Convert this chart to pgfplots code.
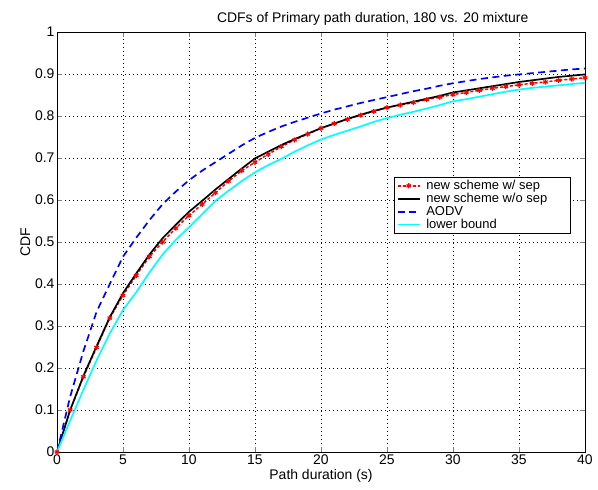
\documentclass[border=0pt]{standalone}
\usepackage{pgfplots}
\pgfplotsset{compat=1.18}
\usepackage{fontspec}
\setmainfont{Liberation Sans}
\definecolor{mycyan}{RGB}{0,255,255}
\newcommand{\legtxt}[1]{\makebox[141bp][l]{#1}}
\begin{document}
\begin{tikzpicture}
\useasboundingbox (-57bp,-38bp) rectangle (541bp,452bp);
\begin{axis}[
  scale only axis, width=528bp, height=420bp,
  xmin=0, xmax=40, ymin=0, ymax=1,
  xtick={0,5,...,40}, ytick={0,0.1,...,1},
  yticklabels={0,0.1,0.2,0.3,0.4,0.5,0.6,0.7,0.8,0.9,1},
  /pgf/number format/assume math mode=true,
  tick label style={font=\fontsize{14}{16}\selectfont},
  xticklabel style={yshift=1bp},
  yticklabel style={xshift=1bp},
  label style={font=\fontsize{14}{16}\selectfont},
  title style={font=\fontsize{14}{16}\selectfont, at={(0.598,1)}, anchor=south, yshift=-3bp},
  title={CDFs of Primary path duration, 180 vs. 20 mixture},
  xlabel={Path duration (s)}, ylabel={CDF},
  xlabel style={yshift=2bp}, ylabel style={yshift=-2bp},
  grid=major, major grid style={black, line width=0.5pt, dash pattern=on 0.6bp off 3.4bp},
  tick align=inside, tick pos=both, major tick length=5bp,
  axis line style={line width=0.8pt},
  legend style={at={(0.973,0.655)}, anchor=north east, font=\fontsize{13}{13}\selectfont, draw=black, line width=0.7pt, row sep=1pt, column sep=5bp, inner sep=2.5pt, nodes={inner sep=0.6pt}},
  legend image code/.code={\draw[mark repeat=2,mark phase=2] plot coordinates {(0cm,0cm) (0.39cm,0cm) (0.78cm,0cm)};},
  legend cell align=left,
]
\addplot[red, line width=1.5pt, densely dashed, mark=asterisk, mark size=2.6pt, mark options={solid, line width=1.2pt}] coordinates {
(0,0) (1,0.10) (2,0.179) (3,0.249) (4,0.319) (5,0.373) (6,0.42) (7,0.465) (8,0.50) (9,0.533) (10,0.563) (11,0.590) (12,0.617) (13,0.645) (14,0.670) (15,0.690) (16,0.709) (17,0.727) (18,0.743) (19,0.757) (20,0.771) (21,0.782) (22,0.792) (23,0.802) (24,0.811) (25,0.820) (26,0.826) (27,0.832) (28,0.839) (29,0.845) (30,0.851) (31,0.856) (32,0.861) (33,0.866) (34,0.870) (35,0.874) (36,0.878) (37,0.881) (38,0.885) (39,0.888) (40,0.891)};
\addlegendentry{\legtxt{new scheme w/ sep}}
\addplot[black, line width=1.7pt] coordinates {
(0,0) (1,0.10) (2,0.181) (3,0.252) (4,0.321) (5,0.378) (6,0.425) (7,0.47) (8,0.509) (9,0.541) (10,0.572) (11,0.598) (12,0.625) (13,0.650) (14,0.675) (15,0.699) (16,0.715) (17,0.731) (18,0.745) (19,0.758) (20,0.771) (21,0.782) (22,0.793) (23,0.803) (24,0.812) (25,0.820) (26,0.827) (27,0.834) (28,0.841) (29,0.848) (30,0.856) (31,0.861) (32,0.866) (33,0.871) (34,0.876) (35,0.881) (36,0.885) (37,0.889) (38,0.893) (39,0.896) (40,0.899)};
\addlegendentry{\legtxt{new scheme w/o sep}}
\addplot[blue, line width=1.7pt, dash pattern=on 7bp off 4.5bp] coordinates {
(0,0) (1,0.132) (2,0.24) (3,0.334) (4,0.40) (5,0.465) (6,0.51) (7,0.552) (8,0.59) (9,0.62) (10,0.647) (11,0.67) (12,0.69) (13,0.71) (14,0.73) (15,0.748) (16,0.762) (17,0.775) (18,0.786) (19,0.796) (20,0.806) (21,0.815) (22,0.823) (23,0.831) (24,0.838) (25,0.845) (26,0.852) (27,0.859) (28,0.865) (29,0.872) (30,0.878) (31,0.883) (32,0.888) (33,0.892) (34,0.896) (35,0.899) (36,0.902) (37,0.905) (38,0.908) (39,0.911) (40,0.913)};
\addlegendentry{\legtxt{AODV}}
\addplot[mycyan, line width=1.7pt] coordinates {
(0,0) (1,0.075) (2,0.148) (3,0.218) (4,0.282) (5,0.338) (6,0.38) (7,0.427) (8,0.47) (9,0.505) (10,0.535) (11,0.566) (12,0.598) (13,0.622) (14,0.645) (15,0.666) (16,0.683) (17,0.698) (18,0.715) (19,0.730) (20,0.744) (21,0.755) (22,0.765) (23,0.775) (24,0.786) (25,0.795) (26,0.803) (27,0.810) (28,0.818) (29,0.826) (30,0.835) (31,0.840) (32,0.846) (33,0.852) (34,0.858) (35,0.863) (36,0.867) (37,0.870) (38,0.873) (39,0.876) (40,0.879)};
\addlegendentry{\legtxt{lower bound}}
\end{axis}
\end{tikzpicture}
\end{document}
